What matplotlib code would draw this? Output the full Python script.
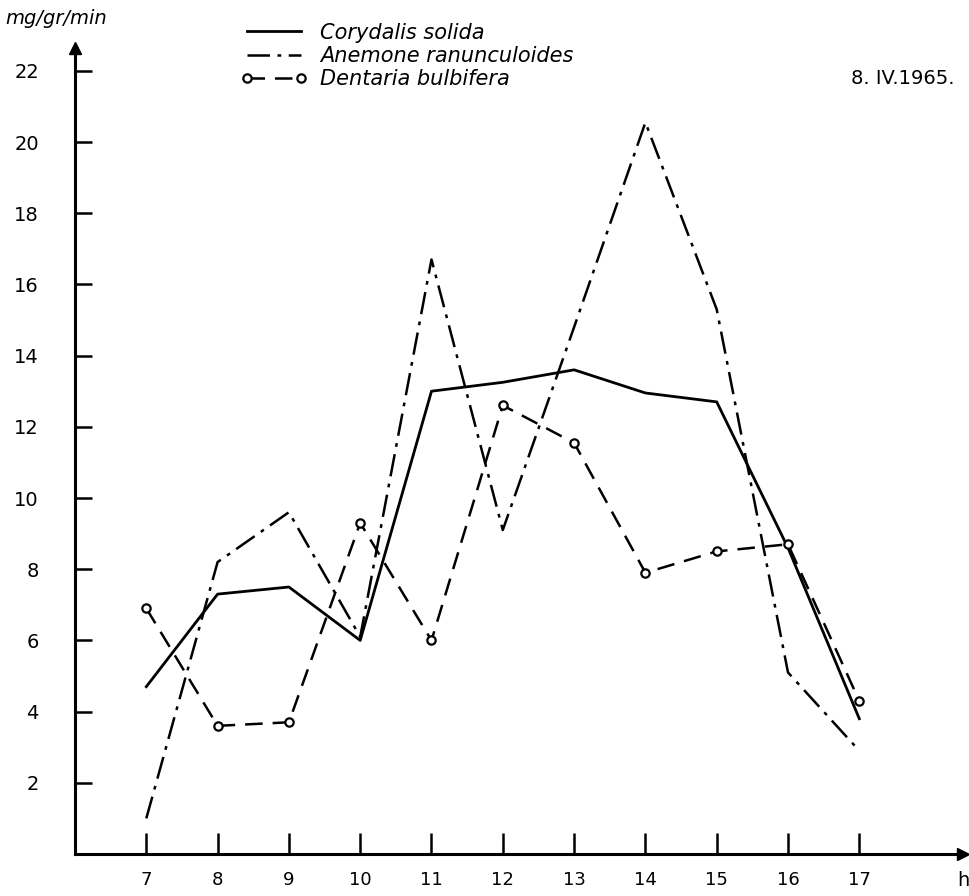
import matplotlib.pyplot as plt

# hours of the day
hours = [7, 8, 9, 10, 11, 12, 13, 14, 15, 16, 17]

# mg/gr/min
corydalis = [4.7, 7.3, 7.5, 6.0, 13.0, 13.25, 13.6, 12.95, 12.7, 8.6, 3.8]
anemone = [1.0, 8.2, 9.6, 6.1, 16.7, 9.1, 14.8, 20.55, 15.3, 5.1, 2.9]
dentaria = [6.9, 3.6, 3.7, 9.3, 6.0, 12.6, 11.55, 7.9, 8.5, 8.7, 4.3]

y_ticks = [2, 4, 6, 8, 10, 12, 14, 16, 18, 20, 22]

plt.rcParams['font.family'] = ['DejaVu Sans']

fig = plt.figure(figsize=(9.7, 8.96), dpi=100)
ax = fig.add_axes([75/970, 42/896, 888/970, 806/896])

ax.plot(hours, corydalis, color='black', lw=2.0, label='Corydalis solida')
ax.plot(hours, anemone, color='black', lw=1.8, dashes=(9, 3, 1.5, 3),
        label='Anemone ranunculoides')
ax.plot(hours, dentaria, color='black', lw=1.8, dashes=(7, 4),
        marker='o', markersize=6, markerfacecolor='white',
        markeredgecolor='black', markeredgewidth=1.6,
        label='Dentaria bulbifera')

ax.set_xlim(6.0, 6.0 + 888/71.3)
ax.set_ylim(0, 806/35.6)

ax.set_xticks(hours)
ax.set_yticks(y_ticks)
ax.tick_params(axis='x', direction='in', length=15, width=1.8, pad=12,
               labelsize=13)
ax.tick_params(axis='y', direction='in', length=12, width=1.8, pad=26,
               labelsize=14)

for s in ['top', 'right']:
    ax.spines[s].set_visible(False)
for s in ['left', 'bottom']:
    ax.spines[s].set_linewidth(2.2)

# arrow heads on the axes
ax.plot(1, 0, '>', color='black', markersize=8, transform=ax.transAxes,
        clip_on=False)
ax.plot(0, 1, '^', color='black', markersize=8, transform=ax.transAxes,
        clip_on=False)

leg = ax.legend(loc='upper left', bbox_to_anchor=(222/970, 1 - 4/896),
                bbox_transform=fig.transFigure, frameon=False,
                handlelength=3.2, handletextpad=0.6, labelspacing=0.15,
                numpoints=2, prop={'style': 'italic', 'size': 15})

fig.text(5/970, 1 - 18/896, 'mg/gr/min', fontsize=14, style='italic',
         va='center', ha='left')
fig.text(955/970, 1 - 78/896, '8. IV.1965.', fontsize=14,
         va='center', ha='right')
fig.text(963/970, 1 - 880/896, 'h', fontsize=14, va='center', ha='center')

fig.savefig('out.png', dpi=100)
